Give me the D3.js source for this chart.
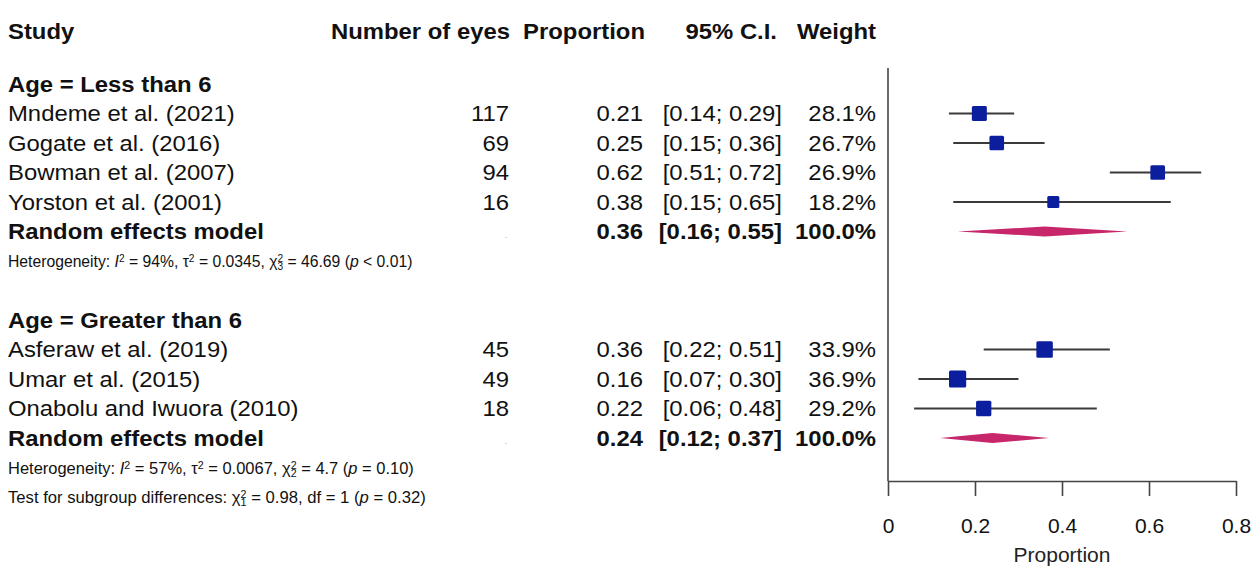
<!DOCTYPE html>
<html>
<head>
<meta charset="utf-8">
<script src="https://cdn.jsdelivr.net/npm/d3@7"></script>
<style>
  html, body { margin: 0; padding: 0; background: #fff; }
  svg { display: block; }
  text { font-family: "Liberation Sans", Arial, Helvetica, sans-serif; fill: #111; }
</style>
</head>
<body>
<svg id="chart" width="1253" height="567"></svg>
<script>
// ---- data ----
const groupLabels = ["Age = Less than 6", "Age = Greater than 6"];
const studyNames = [
  ["Mndeme et al. (2021)", "Gogate et al. (2016)", "Bowman et al. (2007)", "Yorston et al. (2001)"],
  ["Asferaw et al. (2019)", "Umar et al. (2015)", "Onabolu and Iwuora  (2010)"]
];
const eyes = [[117, 69, 94, 16], [45, 49, 18]];
const proportion = [[0.21, 0.25, 0.62, 0.38], [0.36, 0.16, 0.22]];
const ciLower = [[0.14, 0.15, 0.51, 0.15], [0.22, 0.07, 0.06]];
const ciUpper = [[0.29, 0.36, 0.72, 0.65], [0.51, 0.30, 0.48]];
const weights = [[28.1, 26.7, 26.9, 18.2], [33.9, 36.9, 29.2]];
const pooledEstimate = [0.36, 0.24];
const pooledLower = [0.16, 0.12];
const pooledUpper = [0.55, 0.37];
const axisTicks = [0, 0.2, 0.4, 0.6, 0.8];

const svg = d3.select("#chart");
const SX = 1.11;            // horizontal stretch applied to table text
const FS = 21.5;            // table font size
const rowY = k => 25 + 29.5 * k;

const x = d3.scaleLinear().domain([0, 0.8]).range([888, 1236]);
const boxSide = d3.scaleSqrt().domain([0, 100]).range([0, 28.3]);

function txt(px, py, str, opt = {}) {
  const t = svg.append("text")
    .attr("transform", `translate(${px},${py}) scale(${opt.sx || SX},1)`)
    .attr("dy", "0.36em")
    .attr("text-anchor", opt.anchor || "start")
    .style("font-size", (opt.size || FS) + "px")
    .style("font-weight", opt.bold ? "bold" : "normal");
  if (str !== null) t.text(str);
  return t;
}

// column header
const hy = 31;
txt(8, hy, "Study", { bold: true });
txt(510, hy, "Number of eyes", { bold: true, anchor: "end" });
txt(645, hy, "Proportion", { bold: true, anchor: "end" });
txt(777, hy, "95% C.I.", { bold: true, anchor: "end" });
txt(876, hy, "Weight", { bold: true, anchor: "end" });

const fmt2 = d3.format(".2f");
const fmtW = d => d3.format(".1f")(d) + "%";

// statistics line with italic symbols, super- and subscripts
function statLine(py, sx, parts) {
  const t = txt(8, py, null, { size: 17, sx: sx });
  parts.forEach(p => {
    const s = t.append("tspan").text(p.t);
    if (p.i) s.style("font-style", "italic");
    if (p.sup) s.attr("baseline-shift", "45%").style("font-size", "11px");
    if (p.sub) s.attr("baseline-shift", "-30%").style("font-size", "11px").attr("dx", p.dx || 0);
  });
}

const groupStart = [2, 10];
groupLabels.forEach((g, gi) => {
  const k0 = groupStart[gi];
  txt(8, rowY(k0), g, { bold: true });
  studyNames[gi].forEach((name, i) => {
    const yy = rowY(k0 + 1 + i);
    txt(8, yy, name);
    txt(509, yy, String(eyes[gi][i]), { anchor: "end" });
    txt(643, yy, fmt2(proportion[gi][i]), { anchor: "end" });
    txt(782, yy, `[${fmt2(ciLower[gi][i])}; ${fmt2(ciUpper[gi][i])}]`, { anchor: "end" });
    txt(876, yy, fmtW(weights[gi][i]), { anchor: "end" });

    // confidence interval and weighted box
    svg.append("line")
      .attr("x1", x(ciLower[gi][i])).attr("x2", x(ciUpper[gi][i]))
      .attr("y1", yy).attr("y2", yy)
      .attr("stroke", "#3a3a3a").attr("stroke-width", 1.8);
    const s = boxSide(weights[gi][i]);
    svg.append("rect")
      .attr("x", x(proportion[gi][i]) - s / 2).attr("y", yy - s / 2)
      .attr("width", s).attr("height", s)
      .attr("rx", 1.5)
      .attr("fill", "#0b1f9e");
  });

  // pooled random effects row
  const ky = rowY(k0 + 1 + studyNames[gi].length);
  txt(8, ky, "Random effects model", { bold: true });
  svg.append("text").attr("x", 506).attr("y", ky + 7).attr("text-anchor", "middle")
    .style("font-size", "8px").style("fill", "#bbb").text("-");
  txt(643, ky, fmt2(pooledEstimate[gi]), { anchor: "end", bold: true });
  txt(782, ky, `[${fmt2(pooledLower[gi])}; ${fmt2(pooledUpper[gi])}]`, { anchor: "end", bold: true });
  txt(876, ky, "100.0%", { anchor: "end", bold: true });

  const dh = 5;
  svg.append("path")
    .attr("d", `M${x(pooledLower[gi])},${ky} L${x(pooledEstimate[gi])},${ky - dh} L${x(pooledUpper[gi])},${ky} L${x(pooledEstimate[gi])},${ky + dh} Z`)
    .attr("fill", "#c8266a");
});

statLine(rowY(8), 0.925, [
  { t: "Heterogeneity: " }, { t: "I", i: true }, { t: "2", sup: true },
  { t: " = 94%, τ" }, { t: "2", sup: true }, { t: " = 0.0345, χ" },
  { t: "2", sup: true }, { t: "3", sub: true, dx: -6.1 }, { t: " = 46.69 (" }, { t: "p", i: true }, { t: " < 0.01)" }
]);
statLine(rowY(15), 0.97, [
  { t: "Heterogeneity: " }, { t: "I", i: true }, { t: "2", sup: true },
  { t: " = 57%, τ" }, { t: "2", sup: true }, { t: " = 0.0067, χ" },
  { t: "2", sup: true }, { t: "2", sub: true, dx: -6.1 }, { t: " = 4.7 (" }, { t: "p", i: true }, { t: " = 0.10)" }
]);
statLine(rowY(16), 0.98, [
  { t: "Test for subgroup differences: χ" },
  { t: "2", sup: true }, { t: "1", sub: true, dx: -6.1 }, { t: " = 0.98, df = 1 (" }, { t: "p", i: true }, { t: " = 0.32)" }
]);

// reference line at zero
const axisY = 481;
svg.append("line")
  .attr("x1", x(0)).attr("x2", x(0)).attr("y1", 68).attr("y2", axisY)
  .attr("stroke", "#444").attr("stroke-width", 1.6);

// x axis
const ax = svg.append("g").attr("transform", `translate(0,${axisY})`)
  .call(d3.axisBottom(x).tickValues(axisTicks).tickFormat(d3.format("")).tickSize(15).tickSizeOuter(0).tickPadding(22));
ax.select(".domain").attr("stroke", "#444").attr("stroke-width", 1.6);
ax.selectAll(".tick line").attr("stroke", "#444").attr("stroke-width", 1.6);
ax.selectAll(".tick text")
  .style("font-family", '"Liberation Sans", Arial, sans-serif')
  .style("font-size", "21px").attr("fill", "#222");

svg.append("text").attr("x", x(0.4)).attr("y", 562)
  .attr("text-anchor", "middle").style("font-size", "21px").style("fill", "#222")
  .text("Proportion");
</script>
</body>
</html>
